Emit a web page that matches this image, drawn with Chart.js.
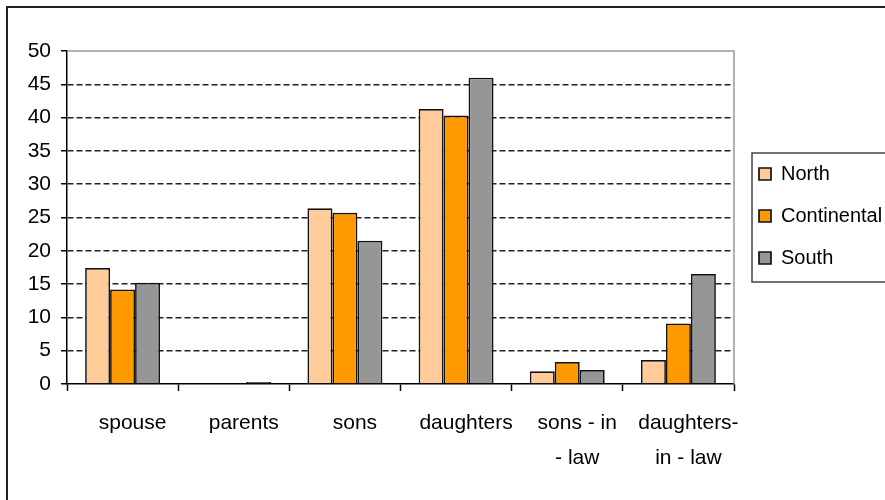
<!DOCTYPE html>
<html>
<head>
<meta charset="utf-8">
<script src="https://cdn.jsdelivr.net/npm/chart.js@4/dist/chart.umd.min.js"></script>
<style>
  html, body { margin: 0; padding: 0; background: #fff; overflow: hidden; }
  #wrap { position: relative; width: 885px; height: 500px; overflow: hidden; }
  #frame { position: absolute; left: 6px; top: 6px; width: 1000px; height: 1000px; border: 2px solid #222; }
  #c { position: absolute; left: 0; top: 0; }
</style>
</head>
<body>
<div id="wrap">
  <div id="frame"></div>
  <canvas id="c" width="885" height="500"></canvas>
</div>
<script>
const categories = ['spouse', 'parents', 'sons', 'daughters', ['sons - in', '- law'], ['daughters-', 'in - law']];
const seriesNames = ['North', 'Continental', 'South'];
const northValues = [17.4, 0, 26.4, 41.3, 1.9, 3.6];
const continentalValues = [14.2, 0, 25.7, 40.3, 3.3, 9.1];
const southValues = [15.2, 0.3, 21.5, 46.0, 2.1, 16.5];
const yTicks = [0, 5, 10, 15, 20, 25, 30, 35, 40, 45, 50];

const FONT = "'Liberation Sans', Arial, sans-serif";

const framePlugin = {
  id: 'framePlugin',
  afterLayout(chart) {
    const lg = chart.legend;
    if (!lg) return;
    lg.left = 737; lg.right = 1100; lg.width = 363;
    lg.top = 142; lg.bottom = 500; lg.height = 358;
  },
  beforeDatasetsDraw(chart) {
    const a = chart.chartArea;
    const ctx = chart.ctx;
    ctx.save();
    ctx.strokeStyle = '#999';
    ctx.lineWidth = 1.5;
    ctx.beginPath();
    ctx.moveTo(a.left, a.top);
    ctx.lineTo(a.right, a.top);
    ctx.lineTo(a.right, a.bottom);
    ctx.stroke();
    ctx.restore();
  },
  afterDraw(chart) {
    const ctx = chart.ctx;
    ctx.save();
    ctx.strokeStyle = '#444';
    ctx.lineWidth = 1.5;
    ctx.strokeRect(752, 153, 300, 129);
    ctx.restore();
  }
};

const colors = ['#FFCC99', '#FF9900', '#969696'];
const allValues = [northValues, continentalValues, southValues];

new Chart(document.getElementById('c'), {
  type: 'bar',
  data: {
    labels: categories,
    datasets: seriesNames.map((n, i) => ({
      label: n,
      data: allValues[i],
      backgroundColor: colors[i],
      borderColor: '#111',
      borderWidth: 1.7,
      borderSkipped: 'bottom',
      categoryPercentage: 0.674,
      barPercentage: 1.0
    }))
  },
  options: {
    responsive: false,
    animation: false,
    devicePixelRatio: 1,
    layout: { padding: { left: 0, top: 51, right: 151, bottom: 0 } },
    plugins: {
      tooltip: { enabled: false },
      legend: {
        position: 'chartArea',
        align: 'start',
        labels: {
          font: { family: FONT, size: 20 },
          color: '#000',
          boxWidth: 12,
          boxHeight: 12,
          padding: 22
        }
      }
    },
    scales: {
      x: {
        afterFit(s) { s.height = 116; },
        grid: {
          offset: true,
          drawOnChartArea: false,
          drawTicks: true,
          tickLength: 7,
          tickColor: '#000',
          tickWidth: 1.5
        },
        border: { color: '#000', width: 1.5 },
        ticks: {
          font: { family: FONT, size: 21, lineHeight: 1.667 },
          color: '#000',
          padding: 15,
          labelOffset: 10,
          maxRotation: 0,
          autoSkip: false
        }
      },
      y: {
        min: 0,
        max: 50,
        afterFit(s) { s.width = 67; },
        afterBuildTicks(s) { s.ticks = yTicks.map(v => ({ value: v })); },
        grid: {
          color: (ctx) => (ctx.tick && (ctx.tick.value === 0 || ctx.tick.value === 50)) ? 'rgba(0,0,0,0)' : '#222',
          lineWidth: 1.5,
          drawTicks: true,
          tickLength: 6,
          tickColor: '#000',
          tickWidth: 1.5,
          tickBorderDash: []
        },
        border: { color: '#000', width: 1.5, dash: [6, 3] },
        ticks: {
          font: { family: FONT, size: 21 },
          color: '#000',
          padding: 10,
          stepSize: 5
        }
      }
    }
  },
  plugins: [framePlugin]
});
</script>
</body>
</html>
